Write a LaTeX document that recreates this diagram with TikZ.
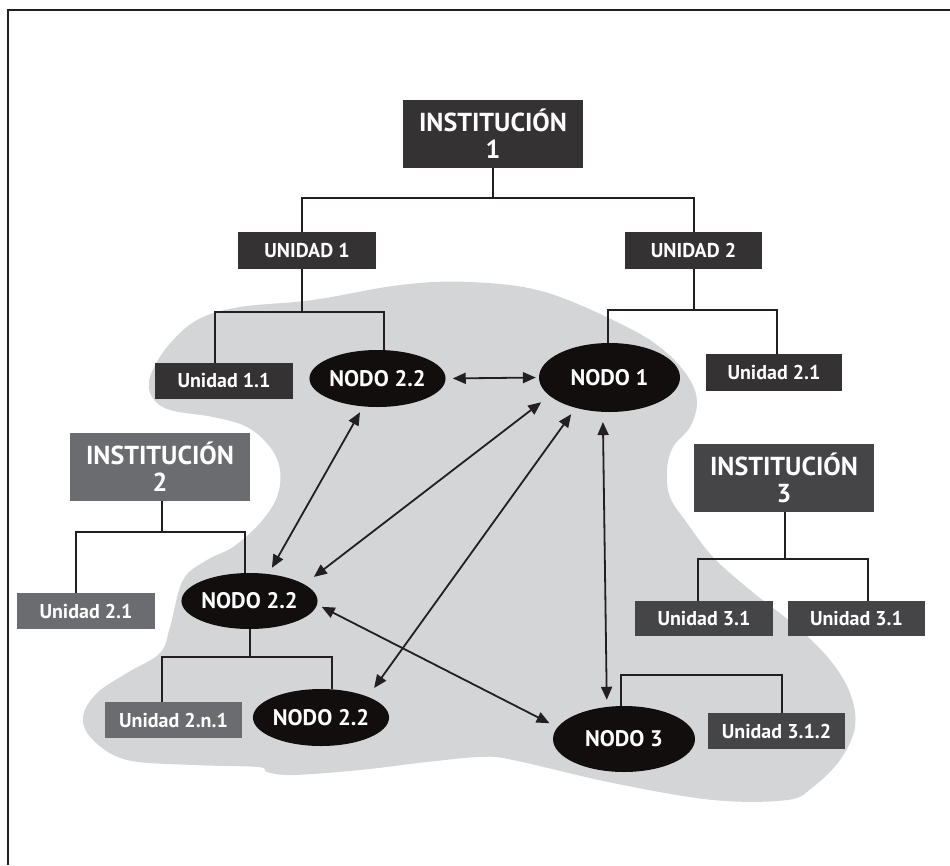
\documentclass[tikz,border=0pt]{standalone}
\usepackage{fontspec}
\setmainfont{PT Sans}
\usetikzlibrary{arrows.meta,shapes.geometric}

\definecolor{darkbox}{HTML}{353233}
\definecolor{midbox}{HTML}{454446}
\definecolor{greybox}{HTML}{6B6C6F}
\definecolor{nodefill}{HTML}{130E0E}
\definecolor{blobfill}{HTML}{D4D5D7}
\definecolor{linec}{HTML}{231F20}

\tikzset{
  box/.style={rectangle, inner sep=0pt, text=white, align=center,
    font=\bfseries\fontsize{20}{22}\selectfont},
  instbox/.style={box, minimum width=180pt, minimum height=68pt,
    font=\bfseries\fontsize{26}{27}\selectfont},
  unitbox/.style={box, minimum width=137pt, minimum height=36pt},
  nodo/.style={ellipse, fill=nodefill, inner sep=0pt, text=white,
    font=\bfseries\fontsize{22.5}{24}\selectfont},
  link/.style={draw=linec, line width=2pt},
  biarrow/.style={draw=linec, line width=1.8pt,
    {Triangle[length=13pt,width=11pt]}-{Triangle[length=13pt,width=11pt]}},
}

\begin{document}
\begin{tikzpicture}[x=1pt,y=-1pt]
\useasboundingbox (0,0) rectangle (950,865);

% grey network area
\fill[blobfill] plot[smooth cycle, tension=0.6] coordinates {
  (470,282) (545,292) (627,327) (667,353) (690,380) (697,403) (690,427)
  (673,447) (667,470) (670,497) (687,523) (713,557) (750,590) (797,627)
  (830,660) (850,693) (855,727) (840,760) (813,787) (787,800) (713,800)
  (613,783) (513,760) (480,757) (427,762) (360,770) (293,775) (267,772)
  (258,767) (193,765) (127,760) (93,740) (83,717) (97,693) (127,673)
  (160,653) (170,627) (183,580) (207,560) (233,547) (260,523) (277,497)
  (280,470) (270,447) (247,427) (213,417) (170,410) (152,397) (150,377)
  (167,347) (197,320) (240,307) (313,300) (400,285)};

% frame
\draw[linec, line width=2pt] (8,865) -- (8,10) -- (950,10);

% institutions and units
\node[instbox, fill=darkbox] (I1) at (493,134) {INSTITUCIÓN\\1};
\node[unitbox, fill=darkbox, minimum width=138pt, minimum height=37pt] (U1) at (307,250.5) {UNIDAD 1};
\node[unitbox, fill=darkbox, minimum height=37pt] (U2) at (693.5,250.5) {UNIDAD 2};
\node[unitbox, fill=darkbox, minimum width=138pt] (U11) at (224,381) {Unidad 1.1};
\node[unitbox, fill=darkbox, minimum width=136pt, minimum height=37pt] (U21r) at (774,372.5) {Unidad 2.1};

\node[instbox, fill=greybox] (I2) at (160,467) {INSTITUCIÓN\\2};
\node[unitbox, fill=greybox, minimum width=138pt] (U21l) at (86,611) {Unidad 2.1};
\node[unitbox, fill=greybox] (U2n1) at (173.5,720) {Unidad 2.n.1};

\node[instbox, fill=midbox] (I3) at (784,478) {INSTITUCIÓN\\3};
\node[unitbox, fill=midbox, minimum width=138pt, minimum height=35pt] (U31a) at (704,618.5) {Unidad 3.1};
\node[unitbox, fill=midbox, minimum height=35pt] (U31b) at (856.5,618.5) {Unidad 3.1};
\node[unitbox, fill=midbox] (U312) at (776.5,731) {Unidad 3.1.2};

% network nodes
\node[nodo, minimum width=133pt, minimum height=57pt] (N22a) at (377.5,378.5) {NODO 2.2};
\node[nodo, minimum width=141pt, minimum height=69pt] (N1) at (609.5,377.5) {NODO 1};
\node[nodo, minimum width=133pt, minimum height=56pt] (N22b) at (249.5,601) {NODO 2.2};
\node[nodo, minimum width=134pt, minimum height=57pt] (N22c) at (321,717.5) {NODO 2.2};
\node[nodo, minimum width=142pt, minimum height=66pt] (N3) at (624,739) {NODO 3};

% hierarchy connectors
\draw[link] (I1.south) -- ++(0,30) coordinate (t1);
\draw[link] ([xshift=-5pt]U1.north) |- (t1) -| (U2.north);

\draw[link] ([xshift=-5pt]U1.south) -- ++(0,43) coordinate (t2);
\draw[link] ([xshift=-9pt]U11.north) |- (t2) -| ([xshift=6.5pt]N22a.north);

\draw[link] (U2.south) -- ++(0,41) coordinate (t3);
\draw[link] ([xshift=-1.5pt]N1.north) |- (t3) -| ([xshift=3pt]U21r.north);

\draw[link] ([xshift=2pt]I2.south) -- ++(0,31) coordinate (t4);
\draw[link] ([xshift=-10pt]U21l.north) |- (t4) -| ([xshift=-4.5pt]N22b.north);

\draw[link] (N22b.south) -- ++(0,28) coordinate (t5);
\draw[link] ([xshift=-11.5pt]U2n1.north) |- (t5) -| ([xshift=11pt]N22c.north);

\draw[link] ([xshift=1pt]I3.south) -- ++(0,47) coordinate (t6);
\draw[link] ([xshift=-6pt]U31a.north) |- (t6) -| ([xshift=11.5pt]U31b.north);

\draw[link] ([xshift=-3pt]N3.north) -- ++(0,-31) -| ([xshift=5.5pt]U312.north);

% links between network nodes
\draw[biarrow, shorten <=7pt, shorten >=3pt] (N22a.0) -- (N1.180);
\draw[biarrow, shorten <=6.5pt, shorten >=7pt] (N22a.243) -- (N22b.55);
\draw[biarrow, shorten <=10.5pt, shorten >=12pt] (N1.197) -- (N22b.17);
\draw[biarrow, shorten <=7.7pt, shorten >=10.7pt] (N1.222) -- (N22c.24);
\draw[biarrow, shorten <=10pt, shorten >=7pt] (N1.259) -- (N3.118);
\draw[biarrow, shorten <=5pt, shorten >=8.8pt] (N22b.357) -- (N3.170);
\end{tikzpicture}
\end{document}
